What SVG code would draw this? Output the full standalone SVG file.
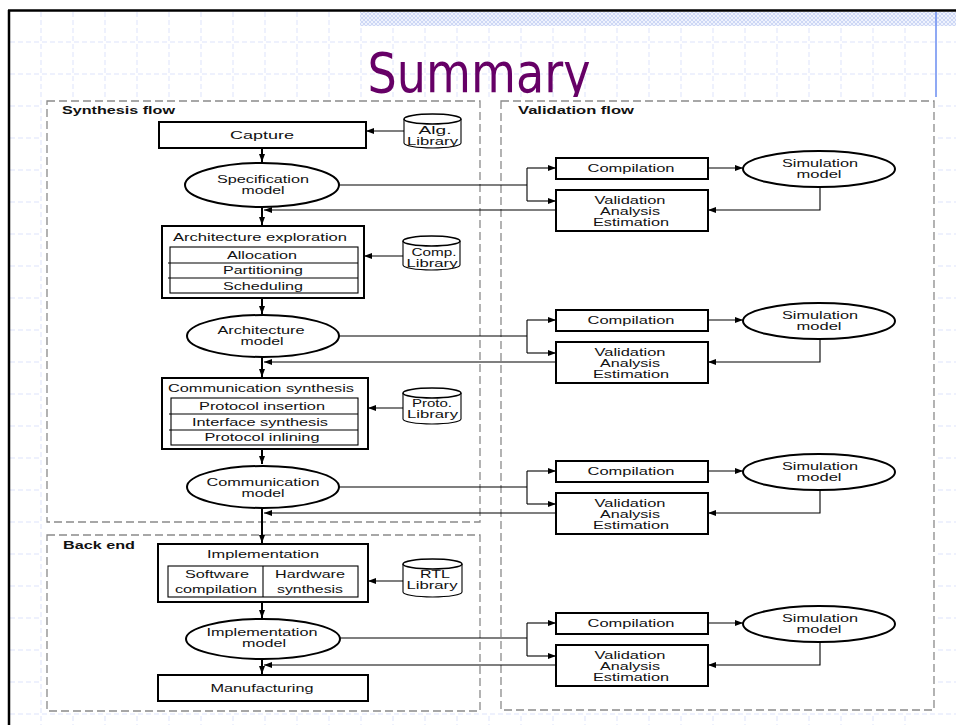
<svg xmlns="http://www.w3.org/2000/svg" width="956" height="725" viewBox="0 0 956 725">
<defs>
<pattern id="hatch" width="4" height="4" patternUnits="userSpaceOnUse">
<rect width="4" height="4" fill="#eef2fd"/>
<path d="M0,0 L4,4 M4,0 L0,4" stroke="#c4d0f2" stroke-width="0.8"/>
</pattern>
<marker id="ah" viewBox="0 0 8 6" markerWidth="8" markerHeight="6" refX="8" refY="3" orient="auto" markerUnits="userSpaceOnUse">
<path d="M0,0 L8,3 L0,6 z" fill="#000"/>
</marker>
<style>
.grid{stroke:#dde3fb;stroke-width:1;stroke-dasharray:5,3;fill:none}
.dash{fill:none;stroke:#8a8a8a;stroke-width:1.3;stroke-dasharray:8,4}
.box{fill:#fff;stroke:#000;stroke-width:2}
.thin{fill:none;stroke:#000;stroke-width:1.1}
.ell{fill:#fff;stroke:#000;stroke-width:2}
.t{font-family:"Liberation Sans",Arial,sans-serif;font-size:10.5px;fill:#111;text-anchor:middle}
.lb{font-family:"Liberation Sans",Arial,sans-serif;font-size:11px;font-weight:bold;fill:#111}
.main{fill:none;stroke:#000;stroke-width:2}
.con{fill:none;stroke:#000;stroke-width:1.1}
</style>
</defs>
<rect width="956" height="725" fill="#fff"/>
<g id="background">
<g class="grid">
<path d="M41,12V725M73,12V725M105,12V725M137,12V725M169,12V725M201,12V725M233,12V725M265,12V725M297,12V725M329,12V725M361,12V725M393,12V725M425,12V725M457,12V725M489,12V725M521,12V725M553,12V725M585,12V725M617,12V725M649,12V725M681,12V725M713,12V725M745,12V725M777,12V725M809,12V725M841,12V725M873,12V725M905,12V725"/>
<path d="M10,42H956M10,74H956M10,106H956M10,138H956M10,170H956M10,202H956M10,234H956M10,266H956M10,298H956M10,330H956M10,362H956M10,394H956M10,426H956M10,458H956M10,490H956M10,522H956M10,554H956M10,586H956M10,618H956M10,650H956M10,682H956M10,714H956"/>
</g>
<rect x="360" y="12" width="596" height="14" fill="url(#hatch)"/>
<line x1="936" y1="12" x2="936" y2="97" stroke="#6a8cf0" stroke-width="1.5"/>
<line x1="8" y1="10.5" x2="956" y2="10.5" stroke="#000" stroke-width="2.5"/>
<line x1="9" y1="10" x2="9" y2="725" stroke="#000" stroke-width="2.5"/>
<text x="479" y="92" font-family="'DejaVu Sans',Verdana,sans-serif" font-size="55" fill="#660066" text-anchor="middle" textLength="223" lengthAdjust="spacingAndGlyphs">Summary</text>
<rect x="42" y="97" width="896" height="616" fill="#fff"/>
</g>
<g id="regions">
<rect class="dash" x="47" y="101" width="433" height="421"/>
<rect class="dash" x="47" y="535" width="433" height="176"/>
<rect class="dash" x="501" y="101" width="433" height="609"/>
<text class="lb" x="62" y="114" textLength="113" lengthAdjust="spacingAndGlyphs">Synthesis flow</text>
<text class="lb" x="518" y="114" textLength="116" lengthAdjust="spacingAndGlyphs">Validation flow</text>
<text class="lb" x="63" y="549" textLength="72" lengthAdjust="spacingAndGlyphs">Back end</text>
</g>
<g id="connectors">
<path class="main" d="M262,148V162" marker-end="url(#ah)"/>
<path class="main" d="M262,207V225" marker-end="url(#ah)"/>
<path class="main" d="M262,298V314" marker-end="url(#ah)"/>
<path class="main" d="M262,357V377" marker-end="url(#ah)"/>
<path class="main" d="M262,449V464" marker-end="url(#ah)"/>
<path class="main" d="M262,508V543" marker-end="url(#ah)"/>
<path class="main" d="M262,602V618" marker-end="url(#ah)"/>
<path class="main" d="M262,659V674" marker-end="url(#ah)"/>
<path class="con" d="M404,131H366" marker-end="url(#ah)"/>
<path class="con" d="M403,256H364" marker-end="url(#ah)"/>
<path class="con" d="M403,408H368" marker-end="url(#ah)"/>
<path class="con" d="M403,581H368" marker-end="url(#ah)"/>
<path class="con" d="M339,185H527M527,168V201"/>
<path class="con" d="M527,168H556" marker-end="url(#ah)"/>
<path class="con" d="M527,201H556" marker-end="url(#ah)"/>
<path class="con" d="M708,168H743" marker-end="url(#ah)"/>
<path class="con" d="M820,187V210H708" marker-end="url(#ah)"/>
<path class="con" d="M556,210H264" marker-end="url(#ah)"/>
<path class="con" d="M339,336H527M527,320V353"/>
<path class="con" d="M527,320H556" marker-end="url(#ah)"/>
<path class="con" d="M527,353H556" marker-end="url(#ah)"/>
<path class="con" d="M708,320H743" marker-end="url(#ah)"/>
<path class="con" d="M820,339V362H708" marker-end="url(#ah)"/>
<path class="con" d="M556,362H264" marker-end="url(#ah)"/>
<path class="con" d="M339,487H527M527,471V504"/>
<path class="con" d="M527,471H556" marker-end="url(#ah)"/>
<path class="con" d="M527,504H556" marker-end="url(#ah)"/>
<path class="con" d="M708,471H743" marker-end="url(#ah)"/>
<path class="con" d="M820,490V513H708" marker-end="url(#ah)"/>
<path class="con" d="M556,513H264" marker-end="url(#ah)"/>
<path class="con" d="M340,638H527M527,623V656"/>
<path class="con" d="M527,623H556" marker-end="url(#ah)"/>
<path class="con" d="M527,656H556" marker-end="url(#ah)"/>
<path class="con" d="M708,623H743" marker-end="url(#ah)"/>
<path class="con" d="M820,642V665H708" marker-end="url(#ah)"/>
<path class="con" d="M556,665H264" marker-end="url(#ah)"/>
</g>
<g id="capture">
<rect class="box" x="159" y="122" width="207" height="26"/>
<text class="t" x="262" y="139" textLength="64" lengthAdjust="spacingAndGlyphs">Capture</text>
</g>
<g id="alg-library">
<path class="thin" d="M404,119V143A28.5,5 0 0 0 461,143V119" fill="#fff" stroke-width="1.5"/>
<ellipse cx="432.5" cy="119" rx="28.5" ry="5" fill="#fff" stroke="#000" stroke-width="1.5"/>
<text class="t" x="435" y="134" textLength="33" lengthAdjust="spacingAndGlyphs">Alg.</text>
<text class="t" x="432.5" y="145" textLength="51" lengthAdjust="spacingAndGlyphs">Library</text>
</g>
<g id="spec-model">
<ellipse class="ell" cx="262" cy="185" rx="77" ry="22"/>
<text class="t" x="263" y="183" textLength="92" lengthAdjust="spacingAndGlyphs">Specification</text>
<text class="t" x="263" y="194" textLength="43" lengthAdjust="spacingAndGlyphs">model</text>
</g>
<g id="arch-exploration">
<rect class="box" x="162" y="226" width="202" height="72" stroke-width="2.5"/>
<text class="t" x="260" y="241" textLength="174" lengthAdjust="spacingAndGlyphs">Architecture exploration</text>
<rect class="thin" x="170" y="247" width="188" height="46"/>
<path class="thin" d="M168,263H358M168,278H358"/>
<text class="t" x="262" y="259" textLength="70" lengthAdjust="spacingAndGlyphs">Allocation</text>
<text class="t" x="263" y="274" textLength="80" lengthAdjust="spacingAndGlyphs">Partitioning</text>
<text class="t" x="263" y="290" textLength="80" lengthAdjust="spacingAndGlyphs">Scheduling</text>
</g>
<g id="comp-library">
<path class="thin" d="M403,241V265A28.5,5 0 0 0 460,265V241" fill="#fff" stroke-width="1.5"/>
<ellipse cx="431.5" cy="241" rx="28.5" ry="5" fill="#fff" stroke="#000" stroke-width="1.5"/>
<text class="t" x="434" y="256" textLength="45" lengthAdjust="spacingAndGlyphs">Comp.</text>
<text class="t" x="432" y="267" textLength="51" lengthAdjust="spacingAndGlyphs">Library</text>
</g>
<g id="arch-model">
<ellipse class="ell" cx="263" cy="336" rx="76" ry="21"/>
<text class="t" x="261" y="334" textLength="87" lengthAdjust="spacingAndGlyphs">Architecture</text>
<text class="t" x="262" y="345" textLength="43" lengthAdjust="spacingAndGlyphs">model</text>
</g>
<g id="comm-synthesis">
<rect class="box" x="162" y="378" width="206" height="71" stroke-width="2.5"/>
<text class="t" x="261" y="392" textLength="186" lengthAdjust="spacingAndGlyphs">Communication synthesis</text>
<rect class="thin" x="171" y="398" width="187" height="47"/>
<path class="thin" d="M169,414H358M169,430H358"/>
<text class="t" x="262" y="410" textLength="126" lengthAdjust="spacingAndGlyphs">Protocol insertion</text>
<text class="t" x="260" y="426" textLength="136" lengthAdjust="spacingAndGlyphs">Interface synthesis</text>
<text class="t" x="262" y="441" textLength="115" lengthAdjust="spacingAndGlyphs">Protocol inlining</text>
</g>
<g id="proto-library">
<path class="thin" d="M403,393V419A29,5 0 0 0 461,419V393" fill="#fff" stroke-width="1.5"/>
<ellipse cx="432" cy="393" rx="29" ry="5" fill="#fff" stroke="#000" stroke-width="1.5"/>
<text class="t" x="432" y="407" textLength="40" lengthAdjust="spacingAndGlyphs">Proto.</text>
<text class="t" x="432.5" y="418" textLength="51" lengthAdjust="spacingAndGlyphs">Library</text>
</g>
<g id="comm-model">
<ellipse class="ell" cx="263" cy="487" rx="76" ry="21"/>
<text class="t" x="263" y="486" textLength="113" lengthAdjust="spacingAndGlyphs">Communication</text>
<text class="t" x="263" y="497" textLength="43" lengthAdjust="spacingAndGlyphs">model</text>
</g>
<g id="implementation">
<rect class="box" x="158" y="544" width="210" height="58"/>
<text class="t" x="263" y="558" textLength="112" lengthAdjust="spacingAndGlyphs">Implementation</text>
<rect class="thin" x="168" y="566" width="190" height="31"/>
<path class="thin" d="M263,566V597"/>
<text class="t" x="217" y="578" textLength="64" lengthAdjust="spacingAndGlyphs">Software</text>
<text class="t" x="216" y="593" textLength="82" lengthAdjust="spacingAndGlyphs">compilation</text>
<text class="t" x="310" y="578" textLength="70" lengthAdjust="spacingAndGlyphs">Hardware</text>
<text class="t" x="310" y="593" textLength="66" lengthAdjust="spacingAndGlyphs">synthesis</text>
</g>
<g id="rtl-library">
<path class="thin" d="M403,564V592A29.5,5 0 0 0 462,592V564" fill="#fff" stroke-width="1.5"/>
<ellipse cx="432.5" cy="564" rx="29.5" ry="5" fill="#fff" stroke="#000" stroke-width="1.5"/>
<text class="t" x="435" y="578" textLength="30" lengthAdjust="spacingAndGlyphs">RTL</text>
<text class="t" x="432" y="589" textLength="51" lengthAdjust="spacingAndGlyphs">Library</text>
</g>
<g id="impl-model">
<ellipse class="ell" cx="263" cy="639" rx="77" ry="20"/>
<text class="t" x="262" y="636" textLength="111" lengthAdjust="spacingAndGlyphs">Implementation</text>
<text class="t" x="264" y="647" textLength="44" lengthAdjust="spacingAndGlyphs">model</text>
</g>
<g id="manufacturing">
<rect class="box" x="158" y="675" width="210" height="26"/>
<text class="t" x="262" y="692" textLength="103" lengthAdjust="spacingAndGlyphs">Manufacturing</text>
</g>
<g id="validation-row-1">
<rect class="box" x="556" y="158" width="152" height="21"/>
<text class="t" x="631" y="172" textLength="87" lengthAdjust="spacingAndGlyphs">Compilation</text>
<ellipse class="ell" cx="819" cy="169" rx="76" ry="18"/>
<text class="t" x="820" y="167" textLength="76" lengthAdjust="spacingAndGlyphs">Simulation</text>
<text class="t" x="819" y="178" textLength="45" lengthAdjust="spacingAndGlyphs">model</text>
<rect class="box" x="556" y="190" width="152" height="41"/>
<text class="t" x="630" y="204" textLength="71" lengthAdjust="spacingAndGlyphs">Validation</text>
<text class="t" x="630" y="215" textLength="60" lengthAdjust="spacingAndGlyphs">Analysis</text>
<text class="t" x="631" y="226" textLength="76" lengthAdjust="spacingAndGlyphs">Estimation</text>
</g>
<g id="validation-row-2">
<rect class="box" x="556" y="310" width="152" height="21"/>
<text class="t" x="631" y="324" textLength="87" lengthAdjust="spacingAndGlyphs">Compilation</text>
<ellipse class="ell" cx="819" cy="321" rx="76" ry="18"/>
<text class="t" x="820" y="319" textLength="76" lengthAdjust="spacingAndGlyphs">Simulation</text>
<text class="t" x="819" y="330" textLength="45" lengthAdjust="spacingAndGlyphs">model</text>
<rect class="box" x="556" y="342" width="152" height="41"/>
<text class="t" x="630" y="356" textLength="71" lengthAdjust="spacingAndGlyphs">Validation</text>
<text class="t" x="630" y="367" textLength="60" lengthAdjust="spacingAndGlyphs">Analysis</text>
<text class="t" x="631" y="378" textLength="76" lengthAdjust="spacingAndGlyphs">Estimation</text>
</g>
<g id="validation-row-3">
<rect class="box" x="556" y="461" width="152" height="21"/>
<text class="t" x="631" y="475" textLength="87" lengthAdjust="spacingAndGlyphs">Compilation</text>
<ellipse class="ell" cx="819" cy="472" rx="76" ry="18"/>
<text class="t" x="820" y="470" textLength="76" lengthAdjust="spacingAndGlyphs">Simulation</text>
<text class="t" x="819" y="481" textLength="45" lengthAdjust="spacingAndGlyphs">model</text>
<rect class="box" x="556" y="493" width="152" height="41"/>
<text class="t" x="630" y="507" textLength="71" lengthAdjust="spacingAndGlyphs">Validation</text>
<text class="t" x="630" y="518" textLength="60" lengthAdjust="spacingAndGlyphs">Analysis</text>
<text class="t" x="631" y="529" textLength="76" lengthAdjust="spacingAndGlyphs">Estimation</text>
</g>
<g id="validation-row-4">
<rect class="box" x="556" y="613" width="152" height="21"/>
<text class="t" x="631" y="627" textLength="87" lengthAdjust="spacingAndGlyphs">Compilation</text>
<ellipse class="ell" cx="819" cy="624" rx="76" ry="18"/>
<text class="t" x="820" y="622" textLength="76" lengthAdjust="spacingAndGlyphs">Simulation</text>
<text class="t" x="819" y="633" textLength="45" lengthAdjust="spacingAndGlyphs">model</text>
<rect class="box" x="556" y="645" width="152" height="41"/>
<text class="t" x="630" y="659" textLength="71" lengthAdjust="spacingAndGlyphs">Validation</text>
<text class="t" x="630" y="670" textLength="60" lengthAdjust="spacingAndGlyphs">Analysis</text>
<text class="t" x="631" y="681" textLength="76" lengthAdjust="spacingAndGlyphs">Estimation</text>
</g>
</svg>
